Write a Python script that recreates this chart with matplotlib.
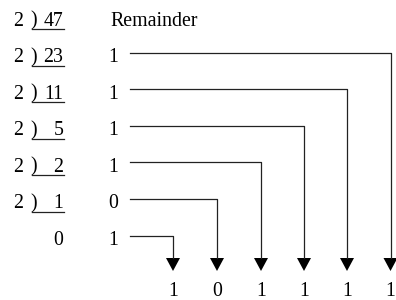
import matplotlib.pyplot as plt

# repeated division of 47 by 2
divisor = 2
dividends = [47, 23, 11, 5, 2, 1, 0]
remainders = [1, 1, 1, 1, 0, 1]
header = "Remainder"
binary_digits = remainders[::-1]  # 1 0 1 1 1 1

plt.rcParams['font.family'] = ['Liberation Serif', 'DejaVu Serif']
fs = 14.3
lc = '#222222'

fig = plt.figure(figsize=(3.96, 3.0), dpi=100)
ax = fig.add_axes([0, 0, 1, 1])
ax.set_xlim(0, 396)
ax.set_ylim(300, 0)
ax.axis('off')

row_gap = 36.6
base0 = 25.5
rem_x = 113.5
line_x0 = 130
col_x = [173, 217, 261, 304, 347, 390.5]
head_top, head_tip = 258, 271
label_base = 295.5

for i, d in enumerate(dividends):
    yb = base0 + i * row_gap
    if i < len(dividends) - 1:
        ax.text(18, yb, str(divisor), fontsize=fs, ha='center', va='baseline')
        ax.text(34, yb, ')', fontsize=fs, ha='center', va='baseline')
        ax.plot([32, 64], [yb + 3.5, yb + 3.5], color=lc, lw=0.9)
    ax.text(63.5, yb, str(d), fontsize=fs, ha='right', va='baseline')

ax.text(110, base0, header, fontsize=fs, ha='left', va='baseline')

# remainders and their arrows down to the binary result
for i, r in enumerate(remainders):
    yb = base0 + (i + 1) * row_gap
    ax.text(rem_x, yb, str(r), fontsize=fs, ha='center', va='baseline')
    ly = yb - 9.5
    cx = col_x[len(remainders) - 1 - i]
    ax.plot([line_x0, cx, cx], [ly, ly, head_top], color=lc, lw=0.9)
    ax.fill([cx - 7, cx + 7, cx], [head_top, head_top, head_tip], color='black', lw=0)

for cx, b in zip(col_x, binary_digits):
    ax.text(cx, label_base, str(b), fontsize=fs, ha='center', va='baseline')

fig.savefig('out.png', dpi=100)
